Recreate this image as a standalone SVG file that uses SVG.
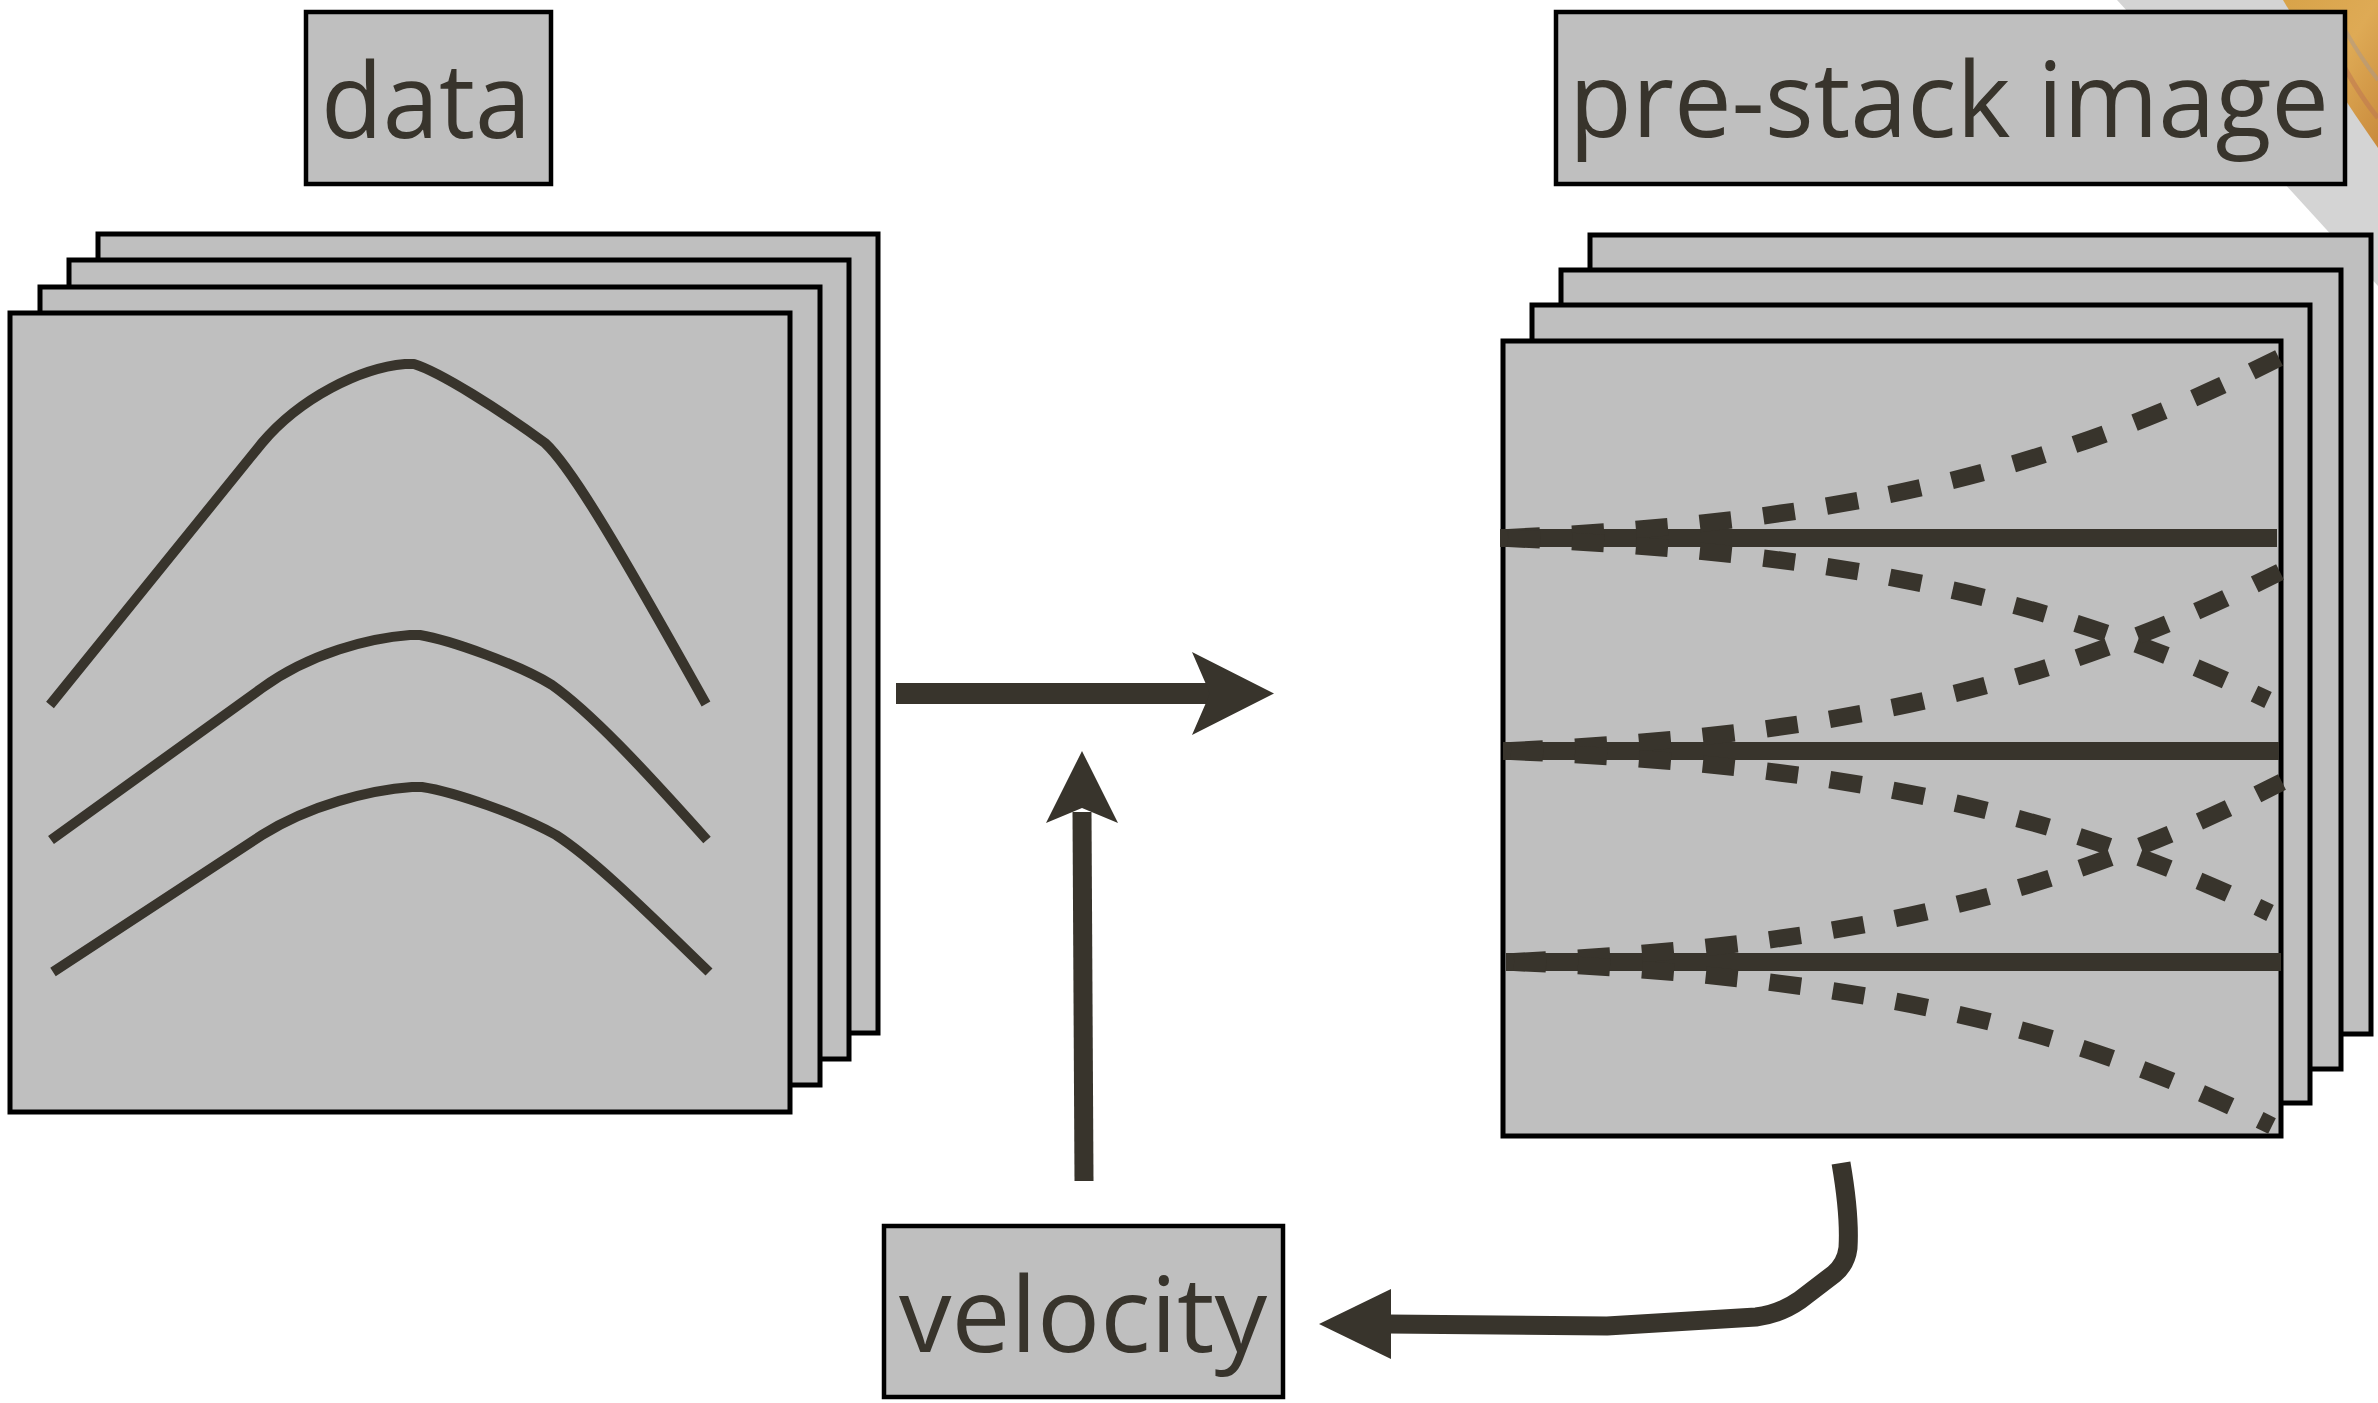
<svg xmlns="http://www.w3.org/2000/svg" width="2378" height="1403" viewBox="0 0 2378 1403">
  <defs>
    <style>
      .panel { fill: #bfbfbf; stroke: #000000; stroke-width: 5; }
      .label { fill: #bfbfbf; stroke: #000000; stroke-width: 4.5; }
      .txt { font-family: "Open Sans", "Noto Sans", sans-serif; font-size: 104px; fill: #38342c; }
      .event { fill: none; stroke: #38342c; stroke-width: 10; stroke-linejoin: round; }
      .flat { fill: none; stroke: #38342c; stroke-width: 18; }
      .branch { fill: none; stroke: #38342c; stroke-width: 17.5; stroke-dasharray: 32 32; stroke-dashoffset: 56; }
      .shaft { fill: none; stroke: #38342c; stroke-linejoin: round; }
      .head { fill: #38342c; }
    </style>
    <linearGradient id="wood" x1="0" y1="0" x2="1" y2="1">
      <stop offset="0" stop-color="#d8a349"/>
      <stop offset="0.5" stop-color="#deaa55"/>
      <stop offset="1" stop-color="#c98a3c"/>
    </linearGradient>
  </defs>

  <rect width="2378" height="1403" fill="#ffffff"/>

  <!-- corner decoration -->
  <g id="corner">
    <polygon points="2117,0 2378,0 2378,286" fill="#d4d4d4"/>
    <path d="M2283,0 L2378,0 L2378,148 Q2330,80 2283,0 Z" fill="url(#wood)"/>
    <path d="M2330,40 Q2355,90 2378,118" fill="none" stroke="#c07a52" stroke-width="5" opacity="0.6"/>
    <path d="M2345,30 Q2362,60 2378,80" fill="none" stroke="#a89890" stroke-width="4" opacity="0.5"/>
  </g>

  <!-- label nodes -->
  <g id="data-label">
    <rect class="label" x="306" y="12" width="245" height="172"/>
    <text class="txt" x="321" y="138" textLength="210" lengthAdjust="spacingAndGlyphs">data</text>
  </g>

  <g id="prestack-label">
    <rect class="label" x="1556" y="12" width="789" height="172"/>
    <text class="txt" x="1569" y="137" textLength="760" lengthAdjust="spacingAndGlyphs">pre-stack image</text>
  </g>

  <g id="velocity-label">
    <rect class="label" x="884" y="1226" width="399" height="171"/>
    <text class="txt" x="899" y="1352" textLength="368" lengthAdjust="spacingAndGlyphs">velocity</text>
  </g>

  <!-- data gathers stack -->
  <g id="data-stack">
    <rect class="panel" x="98" y="234" width="780" height="799"/>
    <rect class="panel" x="69" y="260" width="780" height="799"/>
    <rect class="panel" x="40" y="287" width="780" height="798"/>
    <rect class="panel" x="10" y="313" width="780" height="799"/>
    <path class="event" d="M50,705 L262,443 C300,398 360,368 405,364 L414,364 C440,372 500,410 545,443 C572,468 620,550 706,704"/>
    <path class="event" d="M51,840 L262,688 C310,653 370,638 410,635 L420,635 C450,640 520,665 552,685 C590,712 640,765 707,840"/>
    <path class="event" d="M53,972 L262,835 C310,805 370,790 412,787 L422,787 C455,792 520,815 556,835 C595,860 650,915 709,972"/>
  </g>

  <!-- pre-stack image stack -->
  <g id="image-stack">
    <rect class="panel" x="1590" y="235" width="781" height="799"/>
    <rect class="panel" x="1561" y="270" width="780" height="799"/>
    <rect class="panel" x="1532" y="305" width="778" height="798"/>
    <rect class="panel" x="1503" y="341" width="778" height="795"/>

    <line class="flat" x1="1500" y1="538" x2="2277" y2="538"/>
    <line class="flat" x1="1503" y1="751" x2="2279" y2="751"/>
    <line class="flat" x1="1506" y1="962" x2="2281" y2="962"/>

    <path class="branch" d="M1500,538 C1850,523 2060,468 2279,358"/>
    <path class="branch" d="M1500,538 C1850,552 2060,600 2268,700"/>
    <path class="branch" d="M1503,751 C1853,736 2063,681 2280,572"/>
    <path class="branch" d="M1503,751 C1853,765 2063,813 2270,913"/>
    <path class="branch" d="M1506,962 C1856,947 2066,892 2282,782"/>
    <path class="branch" d="M1506,962 C1856,976 2066,1024 2272,1126"/>
  </g>

  <!-- connectors -->
  <g id="connectors">
    <line class="shaft" x1="896" y1="693.5" x2="1214" y2="693.5" stroke-width="21"/>
    <polygon class="head" points="1274,693.5 1192,652 1210,693.5 1192,735"/>

    <line class="shaft" x1="1084" y1="1181" x2="1082" y2="812" stroke-width="19"/>
    <polygon class="head" points="1082,751 1118,823 1082,808 1046,823"/>

    <path class="shaft" stroke-width="19" d="M1841,1163 Q1850,1215 1848,1248 Q1846,1264 1834,1274 L1800,1300 Q1780,1314 1756,1317 L1607,1326 L1388,1324"/>
    <polygon class="head" points="1319,1324 1391,1289 1391,1359"/>
  </g>
</svg>
